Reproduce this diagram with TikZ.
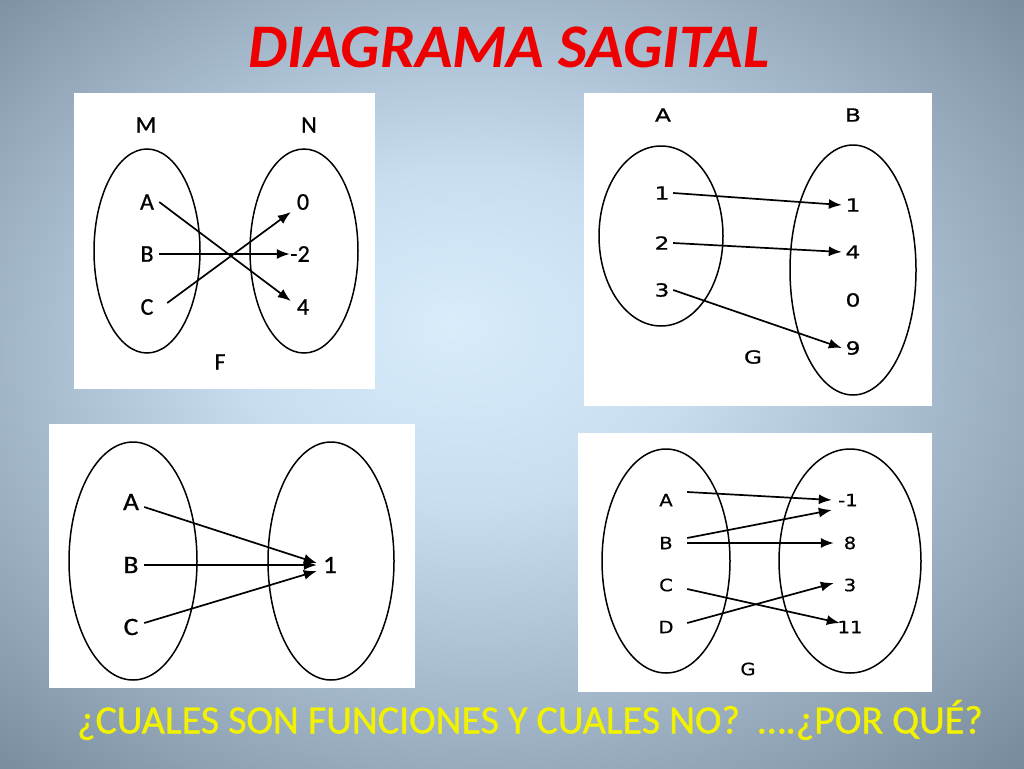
\documentclass[tikz,border=0pt]{standalone}
\usepackage{fontspec}
\setmainfont{Carlito}
\newfontfamily\dejavu[FakeBold=0.6, FakeStretch=1.3]{DejaVu Sans}
\newfontfamily\dejavuh[FakeBold=0.6, FakeStretch=1.15]{DejaVu Sans}
\newfontfamily\carlito[FakeBold=0.8]{Carlito}
\newfontfamily\carlitou[FakeBold=0.8, FakeStretch=1.1]{Carlito}
\usetikzlibrary{arrows.meta}
\definecolor{fondoclaro}{RGB}{216,236,250}
\definecolor{fondocentro}{RGB}{200,222,240}
\definecolor{fondomedio}{RGB}{140,160,178}
\definecolor{fondooscuro}{RGB}{90,107,124}
\definecolor{rojotitulo}{RGB}{238,0,0}
\definecolor{amarillo}{RGB}{242,242,0}
\pgfdeclareradialshading{fondo}{\pgfpoint{-3bp}{4bp}}{color(0bp)=(fondoclaro); color(11bp)=(fondocentro); color(30bp)=(fondomedio); color(45bp)=(fondooscuro)}
\tikzset{flecha/.style={-{Latex[length=13pt,width=10pt]}, line width=1.7pt},
    conj/.style={line width=1.5pt},
    hoja/.style={fill=white},
    titulo/.style={text=rojotitulo, font=\fontsize{62}{62}\selectfont\bfseries\itshape},
    pregunta/.style={text=amarillo, font=\carlito\fontsize{40}{40}\selectfont},
    elemF/.style={font=\carlito\fontsize{24}{24}\selectfont, minimum width=24pt, inner sep=0pt},
    elemG/.style={font=\dejavu\fontsize{18}{18}\selectfont, minimum width=22pt, inner sep=0pt},
    elemU/.style={font=\carlitou\fontsize{25}{25}\selectfont, minimum width=26pt, inner sep=0pt},
    elemH/.style={font=\dejavuh\fontsize{17}{17}\selectfont, minimum width=42pt, inner sep=0pt},
    elemK/.style={font=\dejavuh\fontsize{17}{17}\selectfont, minimum width=32pt, inner sep=0pt}
}

\begin{document}
\begin{tikzpicture}[x=1pt, y=-1pt]
\useasboundingbox (0,0) rectangle (1024,768);
\shade[shading=fondo] (0,0) rectangle (1024,768);
\node[titulo] (tit) at (509,47) {DIAGRAMA SAGITAL};
\node[pregunta] (preg) at (530,720) {¿CUALES SON FUNCIONES Y CUALES NO?\ \ ….¿POR QUÉ?};

% F : M -> N
\fill[hoja] (74,93) rectangle (375,389);
\draw[conj] (147,251) ellipse [x radius=53pt, y radius=102pt];
\draw[conj] (304,251) ellipse [x radius=54pt, y radius=102pt];
\node[elemF] (nomM) at (146,125) {M};
\node[elemF] (nomN) at (309,125) {N};
\node[elemF] (fa) at (147,202) {A};
\node[elemF] (fb) at (147,254) {B};
\node[elemF] (fc) at (147,307) {C};
\node[elemF] (fcero) at (303,202) {0};
\node[elemF] (fmdos) at (300,254) {-2};
\node[elemF] (fcuatro) at (303,307) {4};
\node[elemF] (nomF) at (220,362) {F};
\draw[flecha] (fa.east) -- ([yshift=6pt]fcuatro.west);
\draw[flecha] (fb.east) -- ([xshift=2pt]fmdos.west);
\draw[flecha] ([xshift=8pt,yshift=4pt]fc.east) -- ([yshift=-10pt]fcero.west);

% G : A -> B
\fill[hoja] (584,93) rectangle (932,406);
\draw[conj] (661,236) ellipse [x radius=62pt, y radius=90pt];
\draw[conj] (853,270) ellipse [x radius=63pt, y radius=125pt];
\node[elemG] (nomA) at (663,115) {A};
\node[elemG] (nomB) at (853,115) {B};
\node[elemG] (ga1) at (662,193) {1};
\node[elemG] (ga2) at (662,243) {2};
\node[elemG] (ga3) at (662,290) {3};
\node[elemG] (gb1) at (853,205) {1};
\node[elemG] (gb4) at (853,252) {4};
\node[elemG] (gb0) at (853,300) {0};
\node[elemG] (gb9) at (853,348) {9};
\node[elemG] (nomG) at (753,357) {G};
\draw[flecha] (ga1.east) -- (gb1.west);
\draw[flecha] (ga2.east) -- (gb4.west);
\draw[flecha] (ga3.east) -- (gb9.west);

% A,B,C -> 1
\fill[hoja] (49,424) rectangle (415,688);
\draw[conj] (133,561) ellipse [x radius=64pt, y radius=119pt];
\draw[conj] (331,561) ellipse [x radius=63pt, y radius=119pt];
\node[elemU] (ua) at (131,502) {A};
\node[elemU] (ub) at (131,565) {B};
\node[elemU] (uc) at (131,627) {C};
\node[elemU] (uno) at (330,565) {1};
\draw[flecha] ([yshift=-5pt]ua.east) -- ([yshift=2pt]uno.west);
\draw[flecha] (ub.east) -- (uno.west);
\draw[flecha] ([yshift=4pt]uc.east) -- ([yshift=-6pt]uno.west);

% G : A,B,C,D
\fill[hoja] (578,433) rectangle (932,692);
\draw[conj] (666,561) ellipse [x radius=64pt, y radius=112pt];
\draw[conj] (850,561) ellipse [x radius=71pt, y radius=112pt];
\node[elemH] (ha) at (666,500) {A};
\node[elemH] (hb) at (666,543) {B};
\node[elemH] (hc) at (666,585) {C};
\node[elemH] (hd) at (666,627) {D};
\node[elemK] (km1) at (848,500) {-1};
\node[elemK] (k8) at (850,543) {8};
\node[elemK] (k3) at (850,585) {3};
\node[elemK] (k11) at (850,627) {11};
\node[elemH] (nomG2) at (748,669) {G};
\draw[flecha] ([yshift=8pt]ha.east) -- (km1.west);
\draw[flecha] ([yshift=5pt]hb.east) -- ([yshift=-10pt]km1.west);
\draw[flecha] (hb.east) -- (k8.west);
\draw[flecha] ([yshift=-4pt]hc.east) -- ([xshift=6pt,yshift=4pt]k11.west);
\draw[flecha] ([yshift=4pt]hd.east) -- ([yshift=2pt]k3.west);
\end{tikzpicture}
\end{document}
